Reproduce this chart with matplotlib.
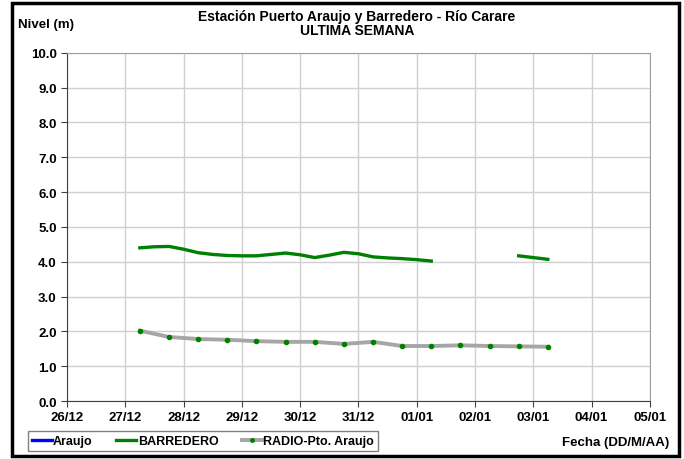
import matplotlib
matplotlib.use("Agg")
import matplotlib.pyplot as plt
import matplotlib.dates as mdates
from matplotlib.patches import Rectangle
from matplotlib.lines import Line2D
import numpy as np
import pandas as pd

plt.rcParams['font.family'] = ['Liberation Sans', 'DejaVu Sans']

# Datos
inicio = pd.Timestamp("2012-12-26")
# BARREDERO, cada 6 horas (dias desde 26/12); NaN = sin dato
barredero_dias = [1.25, 1.5, 1.75, 2.0, 2.25, 2.5, 2.75, 3.0, 3.25, 3.5, 3.75,
                  4.0, 4.25, 4.5, 4.75, 5.0, 5.25, 5.5, 5.75, 6.0, 6.25,
                  7.0, 7.75, 8.0, 8.25]
barredero_nivel = [4.40, 4.43, 4.44, 4.36, 4.26, 4.21, 4.18, 4.17, 4.17, 4.21, 4.25,
                   4.20, 4.12, 4.19, 4.27, 4.23, 4.14, 4.11, 4.09, 4.06, 4.02,
                   np.nan, 4.17, 4.12, 4.07]
# RADIO-Pto. Araujo, cada 12 horas
radio_dias = [1.25, 1.75, 2.25, 2.75, 3.25, 3.75, 4.25, 4.75, 5.25, 5.75,
              6.25, 6.75, 7.25, 7.75, 8.25]
radio_nivel = [2.02, 1.84, 1.78, 1.76, 1.72, 1.70, 1.70, 1.64, 1.70, 1.58,
               1.58, 1.60, 1.58, 1.57, 1.56]

x_barr = inicio + pd.to_timedelta(barredero_dias, unit="D")
x_radio = inicio + pd.to_timedelta(radio_dias, unit="D")

fig = plt.figure(figsize=(6.84, 4.60), dpi=100)
ax = fig.add_axes([0.098, 0.126, 0.852, 0.757])

# Series
ax.plot(x_radio, radio_nivel, color="#A6A6A6", lw=2.8, zorder=3)
ax.plot(x_radio, radio_nivel, ls="none", marker="o", ms=3, color="#008000", zorder=4)
ax.plot(x_barr, barredero_nivel, color="#008000", lw=2.4, zorder=3)

# Ejes
ax.set_ylim(0, 10)
ax.set_yticks(np.arange(0, 10.1, 1.0))
ax.yaxis.set_major_formatter(plt.FuncFormatter(lambda v, p: f"{v:.1f}"))
ax.set_xlim(inicio, inicio + pd.Timedelta(days=10))
ax.xaxis.set_major_locator(mdates.DayLocator())
ax.xaxis.set_major_formatter(mdates.DateFormatter("%d/%m"))

ax.grid(True, color="#D0D0D0", lw=1)
ax.set_axisbelow(True)
for s in ["left", "bottom"]:
    ax.spines[s].set_color("#404040")
for s in ["top", "right"]:
    ax.spines[s].set_color("#A0A0A0")
ax.tick_params(direction="out", length=4, color="#404040", labelsize=9.5)
for lab in ax.get_xticklabels() + ax.get_yticklabels():
    lab.set_fontweight("bold")

# Textos
fig.text(0.522, 0.962, "Estación Puerto Araujo y Barredero - Río Carare",
         ha="center", va="center", fontsize=10, fontweight="bold")
fig.text(0.522, 0.932, "ULTIMA SEMANA", ha="center", va="center",
         fontsize=10, fontweight="bold")
fig.text(0.026, 0.945, "Nivel (m)", ha="left", va="center", fontsize=9.5, fontweight="bold")
fig.text(0.979, 0.037, "Fecha (DD/M/AA)", ha="right", va="center",
         fontsize=9.5, fontweight="bold")

# Leyenda
handles = [Line2D([], [], color="#0000FF", lw=2.4),
           Line2D([], [], color="#008000", lw=2.4),
           Line2D([], [], color="#A6A6A6", lw=2.8, marker="o", ms=2.5,
                  mfc="#008000", mec="#008000", markevery=[1])]
leg = fig.legend(handles, ["Araujo", "BARREDERO", "RADIO-Pto. Araujo"],
                 loc="center left", bbox_to_anchor=(0.041, 0.039),
                 ncol=3, fancybox=False, framealpha=1,
                 edgecolor="#808080", fontsize=9, handlelength=1.6,
                 handletextpad=0.1, columnspacing=1.9,
                 borderpad=0.3, borderaxespad=0)
leg.get_frame().set_linewidth(1.0)
for t in leg.get_texts():
    t.set_fontweight("bold")

# Marco
fig.patches.append(Rectangle((12 / 684, 3 / 460), 667 / 684, 453 / 460,
                             transform=fig.transFigure, fill=False,
                             edgecolor="black", lw=2.5))

fig.savefig("out.png", dpi=100)
